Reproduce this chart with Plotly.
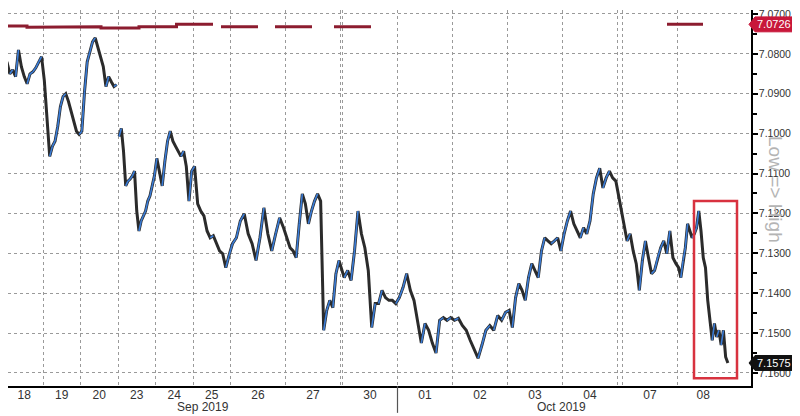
import plotly.graph_objects as go

# ---------------- data ----------------
day_labels = ["18", "19", "20", "23", "24", "25", "26", "27", "30",
              "01", "02", "03", "04", "07", "08"]
# trading-session length of each day on the chart (hours)
day_hours = [15, 15, 15, 15, 15, 15, 22, 22, 22, 22, 22, 22, 22, 22, 20.6]
# weekend gap in hours before each day
gap_before = [0, 0, 0, 0, 0, 0, 0, 0, 0.8, 0, 0, 0, 0, 2, 0]
# no price line joining this day to the previous one
break_before = [False, False, False, True, False, False, False, False, False,
                False, False, False, False, False, False]

sep18 = [7.0820, 7.0850, 7.0840, 7.0857, 7.0790, 7.0832, 7.0857, 7.0875,
         7.0850, 7.0845, 7.0835, 7.0820, 7.0807]
sep19 = [7.0867, 7.0969, 7.1057, 7.1032, 7.1019, 7.0982, 7.0932, 7.0907,
         7.0900, 7.0919, 7.0944, 7.0969, 7.0994, 7.1002]
sep20 = [7.0994, 7.0895, 7.0820, 7.0795, 7.0770, 7.0760, 7.0782, 7.0807,
         7.0832, 7.0882, 7.0857, 7.0870, 7.0882, 7.0877]
sep23 = [7.1007, 7.0987, 7.1044, 7.1131, 7.1119, 7.1114, 7.1106, 7.1094,
         7.1194, 7.1244, 7.1219, 7.1206, 7.1194, 7.1169, 7.1156, 7.1131, 7.1106]
sep24 = [7.1062, 7.1094, 7.1131, 7.1069, 7.1019, 7.0994, 7.1019, 7.1032,
         7.1044, 7.1057, 7.1044, 7.1082, 7.1169, 7.1094]
sep25 = [7.1082, 7.1176, 7.1194, 7.1206, 7.1244, 7.1261, 7.1256, 7.1276,
         7.1294, 7.1301, 7.1336, 7.1306]
sep26 = [7.1276, 7.1261, 7.1219, 7.1201, 7.1251, 7.1276, 7.1318, 7.1261,
         7.1186, 7.1251, 7.1294, 7.1251, 7.1211, 7.1236]
sep27 = [7.1261, 7.1286, 7.1294, 7.1311, 7.1226, 7.1151, 7.1176, 7.1226,
         7.1194, 7.1169, 7.1151, 7.1169, 7.1493, 7.1443, 7.1418, 7.1436,
         7.1351, 7.1318]
sep30 = [7.1361, 7.1343, 7.1368, 7.1294, 7.1194, 7.1251, 7.1286, 7.1343,
         7.1486, 7.1426, 7.1426, 7.1393, 7.1411, 7.1418, 7.1418, 7.1426]
oct01 = [7.1411, 7.1386, 7.1351, 7.1393, 7.1418, 7.1468, 7.1525, 7.1476,
         7.1493, 7.1525, 7.1550, 7.1468, 7.1461, 7.1468, 7.1461]
oct02 = [7.1468, 7.1463, 7.1481, 7.1493, 7.1518, 7.1543, 7.1563, 7.1530,
         7.1493, 7.1481, 7.1493, 7.1456, 7.1468, 7.1448]
oct03 = [7.1443, 7.1486, 7.1411, 7.1376, 7.1393, 7.1418, 7.1361, 7.1326,
         7.1343, 7.1361, 7.1294, 7.1261, 7.1269, 7.1276, 7.1269, 7.1261, 7.1294]
oct04 = [7.1251, 7.1219, 7.1194, 7.1226, 7.1244, 7.1261, 7.1236, 7.1251,
         7.1219, 7.1151, 7.1111, 7.1087, 7.1136, 7.1111, 7.1094, 7.1111, 7.1119]
oct07 = [7.1236, 7.1269, 7.1251, 7.1294, 7.1326, 7.1393, 7.1318, 7.1269,
         7.1311, 7.1351, 7.1343, 7.1311, 7.1286, 7.1269, 7.1301, 7.1244,
         7.1311, 7.1326]
oct08 = [7.1336, 7.1361, 7.1318, 7.1286, 7.1226, 7.1244, 7.1261, 7.1251,
         7.1236, 7.1194, 7.1244, 7.1311, 7.1336, 7.1418, 7.1461, 7.1518,
         7.1476, 7.1510, 7.1493, 7.1530, 7.1493, 7.1560, 7.1575]
prices_by_day = [sep18, sep19, sep20, sep23, sep24, sep25, sep26, sep27, sep30,
                 oct01, oct02, oct03, oct04, oct07, oct08]

# PBOC fixing lines: start / end (hours on the session clock) and value
fix_start_hr = [0.6, 8.6, 23.4, 38.2, 53.4, 68.4, 86.2, 107.8, 131.4, 264.6]
fix_end_hr = [8.6, 23.4, 38.2, 53.4, 68.4, 83.0, 101.0, 122.6, 146.2, 279.0]
fix_value = [7.0730, 7.0733, 7.0732, 7.0735, 7.0732, 7.0726, 7.0732, 7.0732,
             7.0732, 7.0726]

last_fix_label = "7.0726"
last_price_label = "7.1575"
month_labels = ["Sep 2019", "Oct 2019"]
month_centers_hr = [79.0, 222.2]
y_ticks = [7.07, 7.08, 7.09, 7.10, 7.11, 7.12, 7.13, 7.14, 7.15, 7.16]

# ---------------- build series ----------------
xs, ys = [], []
day_start, day_center, boundaries = [], [], []
t = 0.0
for i, vals in enumerate(prices_by_day):
    t += gap_before[i]
    if i > 0:
        boundaries.append(t)
    day_start.append(t)
    L = day_hours[i]
    day_center.append(t + L / 2)
    if break_before[i]:
        xs.append(None)
        ys.append(None)
    n = len(vals)
    for k, v in enumerate(vals):
        xs.append(t + L * (k + 0.5) / n)
        ys.append(v)
    t += L
month_sep_hr = day_start[9]
for i, g in enumerate(gap_before):
    if g > 0:
        boundaries.append(day_start[i] - g)

# blue where the rate falls (yuan strengthens)
bx, by = [], []
for k in range(len(xs) - 1):
    a, b = ys[k], ys[k + 1]
    if a is None or b is None:
        continue
    if b < a:
        bx += [xs[k], xs[k + 1], None]
        by += [a, b, None]

fx, fy = [], []
prev_end = None
for s, e, v in zip(fix_start_hr, fix_end_hr, fix_value):
    if prev_end is not None and abs(s - prev_end) > 1e-9:
        fx.append(None)
        fy.append(None)
    fx += [s, e]
    fy += [v, v]
    prev_end = e

fig = go.Figure()
fig.add_trace(go.Scatter(x=fx, y=fy, mode="lines", line=dict(color="#8c1c2f", width=3),
                         hoverinfo="skip", showlegend=False))
fig.add_trace(go.Scatter(x=xs, y=ys, mode="lines", line=dict(color="#2b2b2b", width=3),
                         showlegend=False))
fig.add_trace(go.Scatter(x=bx, y=by, mode="lines", line=dict(color="#3b7dd8", width=1.6),
                         hoverinfo="skip", showlegend=False))

# the page adds an 8px body margin, so the figure is sized to fit the window
OFF = 8
PLOT_W = 743.0   # page x 8 .. 751
PLOT_H = 378.0   # page y 8 .. 386


def px_x(p):
    return (p - OFF) / PLOT_W


def px_y(p):
    return 1 - (p - OFF) / PLOT_H


X0, X1 = 1.0, 298.2
Y_TOP, Y_BOT = 7.0690, 7.16327

fig.update_layout(
    width=792, height=408,
    margin=dict(l=0, r=49, t=0, b=30),
    paper_bgcolor="white", plot_bgcolor="white",
    font=dict(family="Liberation Sans, Arial, sans-serif", color="#333333"),
    xaxis=dict(
        range=[X0, X1], tickmode="array", tickvals=day_center, ticktext=day_labels,
        ticks="", showgrid=False, zeroline=False,
        showline=True, linecolor="black", linewidth=1.5,
        tickfont=dict(size=12, color="#333333"), ticklabelstandoff=-3,
        minor=dict(tickmode="array", tickvals=boundaries, showgrid=True,
                   gridcolor="#9a9a9a", griddash="dot", gridwidth=1, ticks=""),
    ),
    yaxis=dict(
        range=[Y_BOT, Y_TOP], side="right", tickmode="array", tickvals=y_ticks,
        ticktext=[f"{v:.4f}" for v in y_ticks],
        ticks="outside", ticklen=5, tickwidth=2, tickcolor="black",
        showline=True, linecolor="black", linewidth=1.5, mirror=False,
        showgrid=True, gridcolor="#9a9a9a", griddash="dot", gridwidth=1,
        zeroline=False, tickfont=dict(size=10.5, color="#333333"),
        ticklabelstandoff=-1, ticklabeloverflow="allow",
        minor=dict(dtick=0.005, tick0=7.065, ticks="outside", ticklen=4,
                   tickcolor="black", showgrid=False),
    ),
)

# highlight box around the latest slide
fig.add_shape(type="rect", xref="x", yref="y", x0=275.4, x1=292.6, y0=7.1169, y1=7.1613,
              line=dict(color="#d8323f", width=2.5), layer="above")

# month separator below the axis
fig.add_shape(type="line", xref="x", yref="paper", x0=month_sep_hr, x1=month_sep_hr,
              y0=0, y1=px_y(413), line=dict(color="#555555", width=1.2))

for lab, xc in zip(month_labels, month_centers_hr):
    fig.add_annotation(x=xc, y=px_y(407), xref="x", yref="paper", text=lab, showarrow=False,
                       yanchor="middle", font=dict(size=12, color="#333333"))


# value tags on the right axis
def tag(value, text, color):
    h = 0.00187
    p0, p1, p2 = px_x(749), px_x(755), px_x(793)
    path = (f"M {p0},{value} L {p1},{value - h} L {p2},{value - h} "
            f"L {p2},{value + h} L {p1},{value + h} Z")
    fig.add_shape(type="path", xref="paper", yref="y", path=path,
                  fillcolor=color, line=dict(color=color, width=1), layer="above")
    fig.add_annotation(x=px_x(774), y=value, xref="paper", yref="y", text=text,
                       showarrow=False, font=dict(size=11, color="white"),
                       xanchor="center", yanchor="middle")


tag(fix_value[-1], last_fix_label, "#c8173a")
tag(ys[-1], last_price_label, "#111111")

fig.add_annotation(x=px_x(776), y=px_y(188), xref="paper", yref="paper", text="Low => High",
                   textangle=90, showarrow=False, font=dict(size=19, color="#b4b4b4"),
                   xanchor="center", yanchor="middle")

fig.write_html("out.html")
